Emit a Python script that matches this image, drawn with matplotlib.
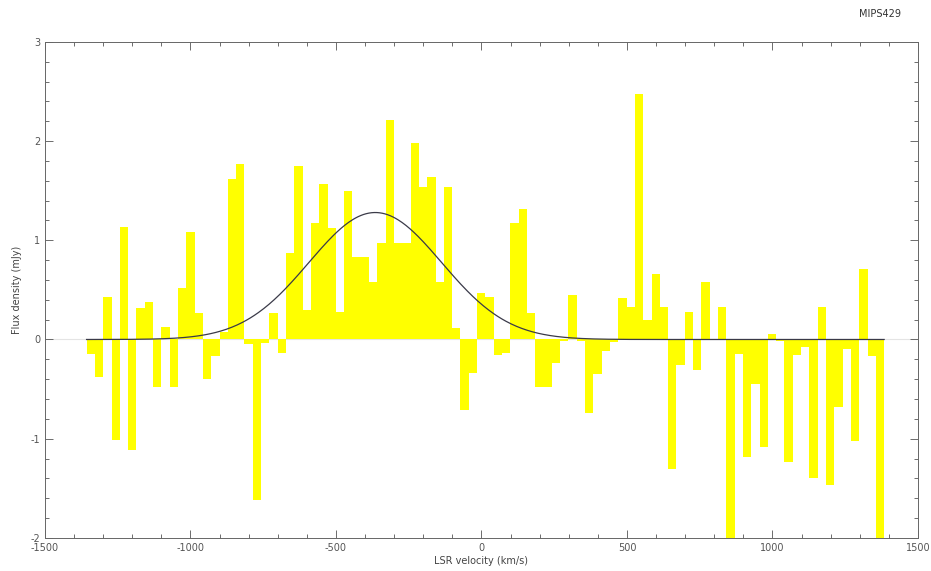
import numpy as np
import matplotlib
matplotlib.use("Agg")
import matplotlib.pyplot as plt
from matplotlib.ticker import MultipleLocator

plt.rcParams['axes.unicode_minus'] = False

# channel grid (km/s)
v_start = -1357.0
dv = 28.55

# flux per channel (mJy)
flux = [
    -0.15, -0.38, 0.43, -1.01, 1.13, -1.11, 0.32, 0.38, -0.48, 0.13,
    -0.48, 0.52, 1.08, 0.27, -0.40, -0.17, 0.08, 1.62, 1.77, -0.05,
    -1.62, -0.04, 0.27, -0.14, 0.87, 1.75, 0.30, 1.17, 1.57, 1.12,
    0.28, 1.50, 0.83, 0.83, 0.58, 0.97, 2.21, 0.97, 0.97, 1.98,
    1.54, 1.64, 0.58, 1.54, 0.12, -0.71, -0.34, 0.47, 0.43, -0.16,
    -0.14, 1.17, 1.32, 0.27, -0.48, -0.48, -0.24, -0.02, 0.45, -0.02,
    -0.74, -0.35, -0.12, -0.03, 0.42, 0.33, 2.47, 0.20, 0.66, 0.33,
    -1.31, -0.26, 0.28, -0.31, 0.58, 0.00, 0.33, -2.05, -0.15, -1.18,
    -0.45, -1.08, 0.06, -0.02, -1.23, -0.16, -0.08, -1.40, 0.33, -1.47,
    -0.68, -0.10, -1.02, 0.71, -0.17, -2.05,
]

# gaussian fit
g_amp = 1.28
g_cen = -365.0
g_sig = 228.0

left = v_start + dv * np.arange(len(flux))
v_end = left[-1] + dv

fig = plt.figure(figsize=(9.31, 5.71), dpi=100)
ax = fig.add_axes([0.0483, 0.058, 0.9377, 0.8686])

ax.axhline(0, color='#e4e4e4', lw=0.8, zorder=1)
ax.bar(left, flux, width=dv, align='edge', color='#ffff00',
       edgecolor='none', zorder=2)

vv = np.linspace(v_start, v_end, 600)
ax.plot(vv, g_amp * np.exp(-0.5 * ((vv - g_cen) / g_sig) ** 2),
        color='#3a3a48', lw=0.9, zorder=3)

ax.set_xlim(-1500, 1500)
ax.set_ylim(-2, 3)
ax.xaxis.set_major_locator(MultipleLocator(500))
ax.xaxis.set_minor_locator(MultipleLocator(100))
ax.yaxis.set_major_locator(MultipleLocator(1))
ax.yaxis.set_minor_locator(MultipleLocator(0.2))
ax.tick_params(which='both', direction='in', top=True, right=True,
               colors='#555555', labelsize=7, width=0.6)
ax.tick_params(which='major', length=6)
ax.tick_params(which='minor', length=3)
for s in ax.spines.values():
    s.set_color('#666666')
    s.set_linewidth(0.7)

ax.set_xlabel('LSR velocity (km/s)', fontsize=7, color='#444444', labelpad=2)
ax.set_ylabel('Flux density (mJy)', fontsize=7, color='#444444', labelpad=6)
fig.text(0.945, 0.975, 'MIPS429', fontsize=7, color='#333333',
         ha='center', va='center')

fig.savefig('out.png', dpi=100)
